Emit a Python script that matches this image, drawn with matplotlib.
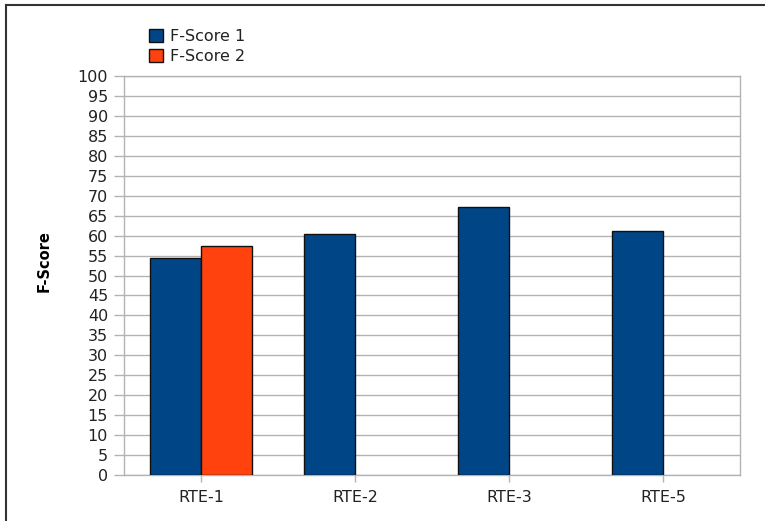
import matplotlib
matplotlib.use("Agg")
import matplotlib.pyplot as plt
from matplotlib.lines import Line2D
import numpy as np

# values
categories = ["RTE-1", "RTE-2", "RTE-3", "RTE-5"]
fscore1 = [54.4, 60.3, 67.2, 61.2]
fscore2 = [57.5, np.nan, np.nan, np.nan]
series_names = ["F-Score 1", "F-Score 2"]

BLUE = "#004586"
ORANGE = "#ff420e"
GRID = "#b3b3b3"

plt.rcParams.update({
    "font.family": ["DejaVu Sans"],
    "font.size": 11.5,
    "text.color": "#222222",
    "xtick.color": GRID,
    "ytick.color": GRID,
    "xtick.labelcolor": "#222222",
    "ytick.labelcolor": "#222222",
})

fig = plt.figure(figsize=(7.65, 5.21), dpi=100)
ax = fig.add_axes([124 / 765, 46 / 521, 616 / 765, 399 / 521])

x = np.arange(len(categories))
w = 1 / 3
ax.bar(x - w / 2, fscore1, w, color=BLUE, edgecolor="#111111", linewidth=1, label=series_names[0], zorder=3)
ax.bar(x + w / 2, fscore2, w, color=ORANGE, edgecolor="#111111", linewidth=1, label=series_names[1], zorder=3)

ax.set_xlim(-0.5, len(categories) - 0.5)
ax.set_ylim(0, 100)
ax.set_yticks(np.arange(0, 101, 5))
ax.set_xticks(x)
ax.set_xticklabels(categories)
ax.yaxis.grid(True, color=GRID, linewidth=1, zorder=0)
ax.tick_params(axis="y", length=7.5, width=1, pad=4)
ax.tick_params(axis="x", length=5, width=1, pad=6)

for side in ["left", "right", "bottom", "top"]:
    ax.spines[side].set_color(GRID)
    ax.spines[side].set_linewidth(1)

ax.set_ylabel("F-Score", fontweight="bold", fontsize=10.5)
ax.yaxis.set_label_coords(-0.117, 0.536)

fig.legend(loc="upper left", bbox_to_anchor=(149 / 765, 1 - 29 / 521),
           frameon=False, borderpad=0, borderaxespad=0,
           handlelength=0.85, handleheight=0.85, handletextpad=0.45,
           labelspacing=0.3)

# page frame (only the top and left edges are visible in the crop)
fig.add_artist(Line2D([6 / 765, 6 / 765], [0, 1 - 5 / 521], transform=fig.transFigure, color="#333333", linewidth=1.5))
fig.add_artist(Line2D([6 / 765, 1], [1 - 5 / 521, 1 - 5 / 521], transform=fig.transFigure, color="#333333", linewidth=1.5))

fig.savefig("out.png", dpi=100)
plt.close(fig)
